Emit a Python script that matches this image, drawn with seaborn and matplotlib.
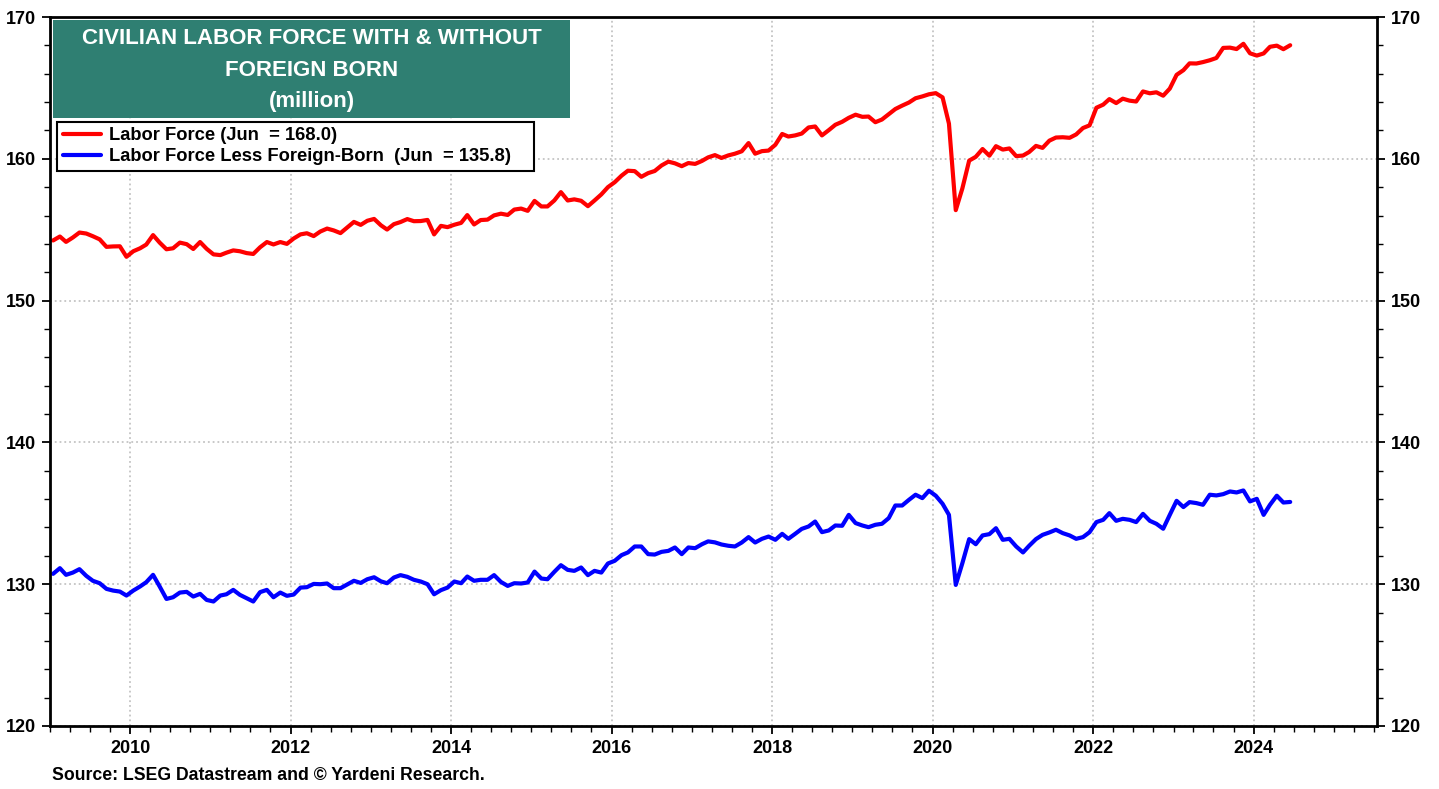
import pandas as pd
import seaborn as sns
import matplotlib.pyplot as plt
import matplotlib.dates as mdates
from matplotlib.ticker import MultipleLocator
from matplotlib.patches import Rectangle
from matplotlib import font_manager

# monthly values, Jan 2009 .. Jun 2024, million persons
start_month = '2009-01-01'

labor_force = [
    154.24, 154.52, 154.14, 154.45, 154.80, 154.73, 154.54, 154.32, 153.79, 153.82, 153.83, 153.09,
    153.48, 153.69, 153.95, 154.62, 154.09, 153.62, 153.69, 154.09, 153.98, 153.64, 154.13, 153.65,
    153.26, 153.21, 153.38, 153.54, 153.48, 153.35, 153.29, 153.76, 154.13, 153.96, 154.13, 154.00,
    154.38, 154.67, 154.75, 154.55, 154.87, 155.08, 154.95, 154.76, 155.16, 155.55, 155.34, 155.63,
    155.76, 155.31, 155.01, 155.39, 155.54, 155.75, 155.60, 155.61, 155.69, 154.67, 155.27, 155.18,
    155.35, 155.48, 156.03, 155.37, 155.68, 155.71, 156.01, 156.13, 156.04, 156.42, 156.49, 156.33,
    157.03, 156.64, 156.64, 157.06, 157.65, 157.06, 157.14, 157.04, 156.66, 157.06, 157.49, 158.00,
    158.35, 158.81, 159.16, 159.13, 158.73, 158.99, 159.14, 159.53, 159.80, 159.68, 159.48, 159.70,
    159.64, 159.85, 160.10, 160.26, 160.06, 160.24, 160.36, 160.53, 161.11, 160.36, 160.54, 160.58,
    160.99, 161.75, 161.57, 161.65, 161.78, 162.21, 162.28, 161.65, 162.02, 162.40, 162.61, 162.89,
    163.11, 162.96, 162.98, 162.58, 162.77, 163.15, 163.51, 163.75, 163.97, 164.27, 164.40, 164.55,
    164.63, 164.33, 162.48, 156.38, 157.91, 159.87, 160.14, 160.69, 160.22, 160.89, 160.65, 160.73,
    160.19, 160.23, 160.48, 160.91, 160.77, 161.28, 161.50, 161.52, 161.48, 161.72, 162.17, 162.36,
    163.60, 163.82, 164.21, 163.93, 164.24, 164.10, 164.04, 164.75, 164.62, 164.69, 164.45, 164.95,
    165.92, 166.25, 166.73, 166.72, 166.82, 166.95, 167.11, 167.82, 167.84, 167.74, 168.11, 167.44,
    167.28, 167.43, 167.90, 167.98, 167.73, 168.01,
]

labor_force_native = [
    130.73, 131.13, 130.66, 130.82, 131.06, 130.59, 130.24, 130.07, 129.67, 129.55, 129.48, 129.20,
    129.55, 129.84, 130.14, 130.66, 129.84, 128.96, 129.08, 129.41, 129.46, 129.13, 129.32, 128.89,
    128.78, 129.20, 129.29, 129.60, 129.25, 129.01, 128.78, 129.44, 129.60, 129.08, 129.41, 129.18,
    129.27, 129.76, 129.79, 130.02, 130.00, 130.05, 129.72, 129.72, 129.98, 130.24, 130.09, 130.35,
    130.49, 130.20, 130.07, 130.47, 130.64, 130.52, 130.31, 130.19, 130.00, 129.29, 129.58, 129.76,
    130.19, 130.07, 130.54, 130.24, 130.31, 130.31, 130.64, 130.16, 129.88, 130.07, 130.05, 130.12,
    130.89, 130.40, 130.35, 130.87, 131.34, 131.01, 130.94, 131.18, 130.64, 130.94, 130.82, 131.46,
    131.65, 132.05, 132.24, 132.66, 132.66, 132.12, 132.09, 132.28, 132.35, 132.59, 132.12, 132.59,
    132.54, 132.82, 133.02, 132.95, 132.80, 132.71, 132.66, 132.94, 133.32, 132.94, 133.20, 133.36,
    133.13, 133.55, 133.20, 133.55, 133.90, 134.07, 134.42, 133.67, 133.79, 134.14, 134.12, 134.89,
    134.31, 134.14, 134.02, 134.19, 134.26, 134.66, 135.55, 135.55, 135.95, 136.31, 136.07, 136.59,
    136.24, 135.67, 134.89, 129.95, 131.48, 133.18, 132.82, 133.44, 133.53, 133.95, 133.13, 133.20,
    132.66, 132.24, 132.71, 133.18, 133.48, 133.65, 133.84, 133.60, 133.44, 133.20, 133.32, 133.67,
    134.38, 134.54, 135.01, 134.47, 134.61, 134.54, 134.38, 134.96, 134.47, 134.26, 133.91, 134.89,
    135.88, 135.44, 135.79, 135.72, 135.60, 136.31, 136.26, 136.35, 136.54, 136.47, 136.61, 135.84,
    136.02, 134.89, 135.60, 136.24, 135.76, 135.80,
]

legend_labels = ['Labor Force (Jun  = 168.0)',
                 'Labor Force Less Foreign-Born  (Jun  = 135.8)']
title_lines = ['CIVILIAN LABOR FORCE WITH & WITHOUT', 'FOREIGN BORN', '(million)']
source_note = 'Source: LSEG Datastream and \u00a9 Yardeni Research.'
y_ticks = [120, 130, 140, 150, 160, 170]

sns.set_style('white')
plt.rcParams['font.family'] = ['Liberation Sans', 'DejaVu Sans']
plt.rcParams['font.weight'] = 'bold'
plt.rcParams['text.color'] = 'black'
plt.rcParams['xtick.color'] = 'black'
plt.rcParams['ytick.color'] = 'black'

installed = {f.name for f in font_manager.fontManager.ttflist}
tick_family = 'Liberation Sans Narrow' if 'Liberation Sans Narrow' in installed else 'Liberation Sans'

# mid-month dates
dates = pd.date_range(start_month, periods=len(labor_force), freq='MS') + pd.Timedelta(days=14)
df = pd.DataFrame({'date': dates, 'total': labor_force, 'native': labor_force_native})

W, H = 1439, 789
fig = plt.figure(figsize=(W / 100, H / 100), dpi=100)
ax = fig.add_axes([50 / W, 1 - 726 / H, 1327 / W, 709 / H])

sns.lineplot(data=df, x='date', y='total', color='#ff0000', lw=3.0, ax=ax, label=legend_labels[0])
sns.lineplot(data=df, x='date', y='native', color='#0000ff', lw=3.0, ax=ax, label=legend_labels[1])

ax.set_xlim(pd.Timestamp('2009-01-01'), pd.Timestamp('2025-07-15'))
ax.set_ylim(120, 170)
ax.set_xlabel('')
ax.set_ylabel('')

ax.xaxis.set_major_locator(mdates.YearLocator(2))
ax.xaxis.set_major_formatter(mdates.DateFormatter('%Y'))
ax.xaxis.set_minor_locator(mdates.MonthLocator(bymonth=[1, 4, 7, 10]))
ax.set_yticks(y_ticks)
ax.yaxis.set_minor_locator(MultipleLocator(2))

ax.tick_params(axis='both', which='major', direction='out', length=6, width=1.3,
               labelsize=13, pad=4, colors='black')
ax.tick_params(axis='both', which='minor', direction='out', length=4, width=1.0, colors='black')
ax.tick_params(axis='y', which='both', left=True, right=True, labelleft=True, labelright=True)
ax.tick_params(axis='x', which='both', bottom=True)
for t in ax.xaxis.get_major_ticks() + ax.yaxis.get_major_ticks():
    for lab in (t.label1, t.label2):
        lab.set_family(tick_family)
        lab.set_weight('bold')
        lab.set_fontsize(13)
        lab.set_color('black')

ax.grid(True, which='major', ls=':', color='#c4c4c4', lw=1.3)
for sp in ax.spines.values():
    sp.set_visible(True)
    sp.set_color('black')
    sp.set_linewidth(2.0)

# title box
ax.add_patch(Rectangle((3 / 1327, (726 - 118) / 709), 517 / 1327, 98 / 709,
                       transform=ax.transAxes, facecolor='#2f7f72', edgecolor='none', zorder=5))
for txt, ypx in zip(title_lines, [38, 71, 102]):
    ax.text((311.5 - 50) / 1327, (726 - ypx) / 709, txt, transform=ax.transAxes,
            ha='center', va='center', color='white', fontsize=16, fontweight='bold', zorder=6)

leg = ax.legend(loc='upper left',
                bbox_to_anchor=(7 / 1327, (726 - 170) / 709, (534 - 57) / 1327, 48 / 709),
                mode='expand', frameon=True, fancybox=False, edgecolor='black', framealpha=1,
                prop={'weight': 'bold', 'size': 13.2}, handlelength=2.1, handletextpad=0.45,
                borderpad=0.3, labelspacing=0.2, borderaxespad=0)
leg.get_frame().set_linewidth(1.5)
leg.set_zorder(7)

fig.text(52 / W, 1 - 775 / H, source_note, ha='left', va='center', fontsize=12.7, fontweight='bold')

fig.savefig('out.png', dpi=100)
